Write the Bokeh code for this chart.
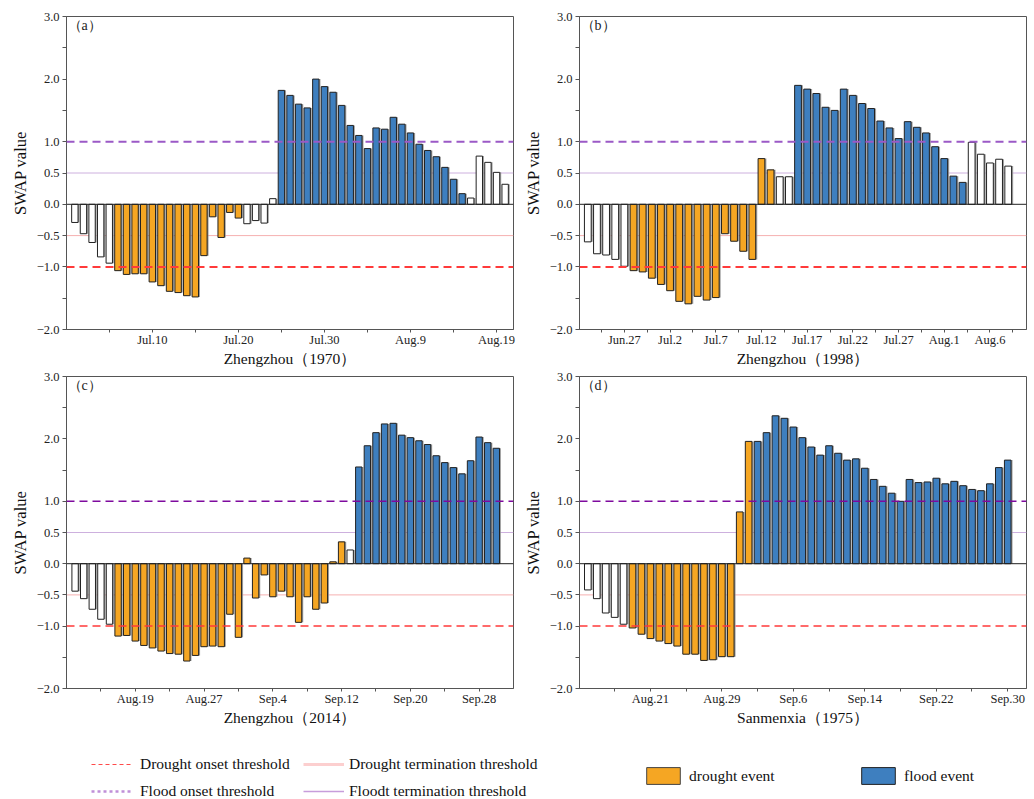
from bokeh.plotting import figure
from bokeh.models import ColumnDataSource, Span, Label, FixedTicker, Legend, LegendItem
from bokeh.layouts import column, row
from bokeh.embed import file_html
from bokeh.resources import INLINE

# ---------------- data ----------------
# (a) Zhengzhou 1970, daily from Jul.1
a_vals = [-0.29, -0.47, -0.61, -0.84, -0.94, -1.06, -1.12, -1.11, -1.11, -1.24,
          -1.30, -1.39, -1.41, -1.46, -1.48, -0.82, -0.20, -0.53, -0.13, -0.22,
          -0.31, -0.26, -0.30, 0.09, 1.82, 1.74, 1.60, 1.54, 2.00, 1.88,
          1.79, 1.58, 1.26, 1.10, 0.89, 1.22, 1.20, 1.39, 1.28, 1.14,
          0.96, 0.86, 0.76, 0.59, 0.40, 0.17, 0.10, 0.77, 0.67, 0.51, 0.32]
a_types = ["n"] * 5 + ["d"] * 15 + ["n"] * 4 + ["f"] * 22 + ["n"] * 5
a_ticks = [10, 20, 30, 40, 50]
a_tick_labels = ["Jul.10", "Jul.20", "Jul.30", "Aug.9", "Aug.19"]
a_minor = [5, 15, 25, 35, 45]

# (b) Zhengzhou 1998, daily from Jun.23
b_vals = [-0.60, -0.79, -0.81, -0.88, -0.99, -1.06, -1.08, -1.18, -1.28, -1.38,
          -1.55, -1.59, -1.47, -1.53, -1.49, -0.47, -0.59, -0.75, -0.88, 0.73,
          0.55, 0.44, 0.44, 1.90, 1.84, 1.77, 1.55, 1.50, 1.84, 1.74,
          1.61, 1.53, 1.33, 1.22, 1.05, 1.32, 1.23, 1.14, 0.92, 0.73,
          0.45, 0.35, 0.99, 0.80, 0.66, 0.72, 0.61]
b_types = ["n"] * 5 + ["d"] * 16 + ["n"] * 2 + ["f"] * 19 + ["n"] * 5
b_ticks = [5, 10, 15, 20, 25, 30, 35, 40, 45]
b_tick_labels = ["Jun.27", "Jul.2", "Jul.7", "Jul.12", "Jul.17", "Jul.22", "Jul.27", "Aug.1", "Aug.6"]
b_minor = [2.5, 7.5, 12.5, 17.5, 22.5, 27.5, 32.5, 37.5, 42.5, 47.5]

# (c) Zhengzhou 2014, daily from Aug.12
c_vals = [-0.44, -0.56, -0.73, -0.89, -0.97, -1.16, -1.15, -1.24, -1.31, -1.35,
          -1.40, -1.44, -1.45, -1.56, -1.47, -1.33, -1.32, -1.33, -0.81, -1.18,
          0.09, -0.55, -0.18, -0.53, -0.44, -0.53, -0.94, -0.53, -0.73, -0.63,
          0.03, 0.35, 0.22, 1.55, 1.89, 2.10, 2.24, 2.25, 2.06, 2.02,
          1.97, 1.91, 1.73, 1.62, 1.54, 1.44, 1.65, 2.03, 1.94, 1.85]
c_types = ["n"] * 5 + ["d"] * 27 + ["n"] * 1 + ["f"] * 17
c_ticks = [8, 16, 24, 32, 40, 48]
c_tick_labels = ["Aug.19", "Aug.27", "Sep.4", "Sep.12", "Sep.20", "Sep.28"]
c_minor = [4, 12, 20, 28, 36, 44]

# (d) Sanmenxia 1975, daily from Aug.14
d_vals = [-0.42, -0.56, -0.79, -0.86, -0.97, -1.03, -1.13, -1.20, -1.24, -1.28,
          -1.32, -1.45, -1.45, -1.55, -1.54, -1.49, -1.49, 0.83, 1.96, 1.96,
          2.10, 2.37, 2.33, 2.19, 2.02, 1.87, 1.74, 1.89, 1.77, 1.66,
          1.68, 1.53, 1.35, 1.24, 1.13, 1.00, 1.35, 1.30, 1.31, 1.37,
          1.28, 1.32, 1.25, 1.19, 1.17, 1.28, 1.54, 1.66]
d_types = ["n"] * 5 + ["d"] * 14 + ["f"] * 29
d_ticks = [8, 16, 24, 32, 40, 48]
d_tick_labels = ["Aug.21", "Aug.29", "Sep.6", "Sep.14", "Sep.22", "Sep.30"]
d_minor = [4, 12, 20, 28, 36, 44]

y_ticks = [-2.0, -1.5, -1.0, -0.5, 0.0, 0.5, 1.0, 1.5, 2.0, 2.5, 3.0]
y_tick_labels = ["\u22122.0", "", "\u22121.0", "\u22120.5", "0.0", "0.5", "1.0", "", "2.0", "", "3.0"]

FONT = "Liberation Serif"
COLORS = {"d": "#f5a623", "f": "#3e7fbf", "n": "#ffffff"}


def make_panel(vals, types, xr, ticks, tick_labels, minor, xlabel, tag,
               bl, br, bt, bb, fh, purple, purple_w, red_w):
    p = figure(frame_width=447, frame_height=fh, x_range=xr, y_range=(-2.0, 3.0),
               toolbar_location=None, output_backend="svg",
               min_border_left=bl, min_border_right=br, min_border_top=bt, min_border_bottom=bb)
    n = len(vals)
    xs = list(range(1, n + 1))
    src = ColumnDataSource(dict(x=xs, xs=[x + 0.17 for x in xs], top=vals,
                                color=[COLORS[t] for t in types]))
    p.vbar(x="xs", top="top", bottom=0, width=0.74, source=src,
           fill_color="#8f8f8f", line_color=None, fill_alpha=0.85)
    p.vbar(x="x", top="top", bottom=0, width=0.74, source=src,
           fill_color="color", line_color="#222222", line_width=1)

    p.add_layout(Span(location=0.5, dimension="width", line_color="#cdb0de", line_width=1, level="underlay"))
    p.add_layout(Span(location=-0.5, dimension="width", line_color="#f6b0b0", line_width=1, level="underlay"))
    p.add_layout(Span(location=0.0, dimension="width", line_color="#222222", line_width=1))
    p.add_layout(Span(location=1.0, dimension="width", line_color=purple, line_width=purple_w, line_dash="8 5"))
    p.add_layout(Span(location=-1.0, dimension="width", line_color="#ff3a3a", line_width=red_w, line_dash="8 5"))

    p.xgrid.visible = False
    p.ygrid.visible = False
    p.outline_line_color = "#555555"
    p.outline_line_width = 1

    p.xaxis.ticker = FixedTicker(ticks=ticks, minor_ticks=minor)
    p.xaxis.major_label_overrides = {t: l for t, l in zip(ticks, tick_labels)}
    p.yaxis.ticker = FixedTicker(ticks=y_ticks)
    p.yaxis.major_label_overrides = {t: l for t, l in zip(y_ticks, y_tick_labels)}

    for ax in (p.xaxis[0], p.yaxis[0]):
        ax.axis_line_color = "#555555"
        ax.major_tick_line_color = "#555555"
        ax.minor_tick_line_color = "#555555"
        ax.major_tick_out = 4
        ax.major_tick_in = 0
        ax.minor_tick_out = 3
        ax.minor_tick_in = 0
        ax.major_label_text_font = FONT
        ax.major_label_text_font_size = "12.5px"
        ax.major_label_text_color = "#222222"
        ax.axis_label_text_font = FONT
        ax.axis_label_text_font_style = "normal"
        ax.axis_label_text_color = "#111111"
    p.yaxis.minor_tick_line_color = None
    p.xaxis.major_tick_out = 3
    p.xaxis.major_label_standoff = 0
    p.xaxis.axis_label_standoff = 0
    p.yaxis.major_label_standoff = 3
    p.yaxis.axis_label_standoff = 4
    p.xaxis.axis_label = xlabel
    p.yaxis.axis_label = "SWAP value"
    p.xaxis.axis_label_text_font_size = "15.5px"
    p.yaxis.axis_label_text_font_size = "16.5px"

    p.add_layout(Label(x=1, y=fh - 9, x_units="screen", y_units="screen", text=tag,
                       text_font=FONT, text_font_size="14px", text_baseline="middle",
                       text_color="#222222"))
    return p


pa = make_panel(a_vals, a_types, (0.03, 51.97), a_ticks, a_tick_labels, a_minor,
                "Zhengzhou\uff081970\uff09", "\uff08a\uff09", 66, 5, 16, 38, 313, "#9b59c6", 2, 2)
pb = make_panel(b_vals, b_types, (0.09, 49.0), b_ticks, b_tick_labels, b_minor,
                "Zhengzhou\uff081998\uff09", "\uff08b\uff09", 61, 8, 16, 38, 313, "#9b59c6", 2, 2)
pc = make_panel(c_vals, c_types, (0.0, 52.0), c_ticks, c_tick_labels, c_minor,
                "Zhengzhou\uff082014\uff09", "\uff08c\uff09", 66, 5, 7, 49, 312, "#7e0a9e", 1.5, 1.5)
pd = make_panel(d_vals, d_types, (0.07, 50.1), d_ticks, d_tick_labels, d_minor,
                "Sanmenxia\uff081975\uff09", "\uff08d\uff09", 61, 8, 7, 49, 312, "#7e0a9e", 1.5, 1.5)

# ---------------- legend strip ----------------
leg = figure(width=1034, height=62, x_range=(0, 1034), y_range=(0, 62),
             toolbar_location=None, output_backend="svg", min_border=0,
             x_axis_location=None, y_axis_location=None)
leg.xgrid.visible = False
leg.ygrid.visible = False
leg.outline_line_color = None

# legend-only renderers (their points lie outside the visible range)
off = dict(x=[-50, -40], y=[-50, -50])
r_don = leg.line(x=off["x"], y=off["y"], line_color="#ff4a4a", line_width=1.2, line_dash="4 3")
r_fon = leg.line(x=off["x"], y=off["y"], line_color="#c08fd8", line_width=2.5, line_dash="3 3")
r_dte = leg.line(x=off["x"], y=off["y"], line_color="#fccfcf", line_width=3)
r_fte = leg.line(x=off["x"], y=off["y"], line_color="#c79ddb", line_width=1.3)
r_dev = leg.vbar(x=[-50], top=[-40], bottom=-50, width=1, fill_color=COLORS["d"], line_color="#444444")
r_fev = leg.vbar(x=[-50], top=[-40], bottom=-50, width=1, fill_color=COLORS["f"], line_color="#222222")


def add_legend(items, loc, gw, gh, spacing, standoff):
    lg = Legend(items=items, location=loc, orientation="vertical",
                glyph_width=gw, glyph_height=gh, label_height=gh, spacing=spacing,
                padding=0, margin=0, label_standoff=standoff,
                border_line_color=None, background_fill_alpha=0,
                label_text_font=FONT, label_text_font_size="15.5px",
                label_text_color="#111111")
    leg.add_layout(lg)


add_legend([LegendItem(label="Drought onset threshold", renderers=[r_don]),
            LegendItem(label="Flood onset threshold", renderers=[r_fon])],
           (91, -2), 42, 20, 7, 7)
add_legend([LegendItem(label="Drought termination threshold", renderers=[r_dte]),
            LegendItem(label="Floodt termination threshold", renderers=[r_fte])],
           (303, -2), 41, 20, 7, 5)
add_legend([LegendItem(label="drought event", renderers=[r_dev])], (642, 13), 42, 21, 0, 5)
add_legend([LegendItem(label="flood event", renderers=[r_fev])], (857, 13), 42, 21, 0, 5)

layout = column(row(pa, pb), row(pc, pd), leg)

open("out.html", "w").write(file_html(layout, INLINE))
